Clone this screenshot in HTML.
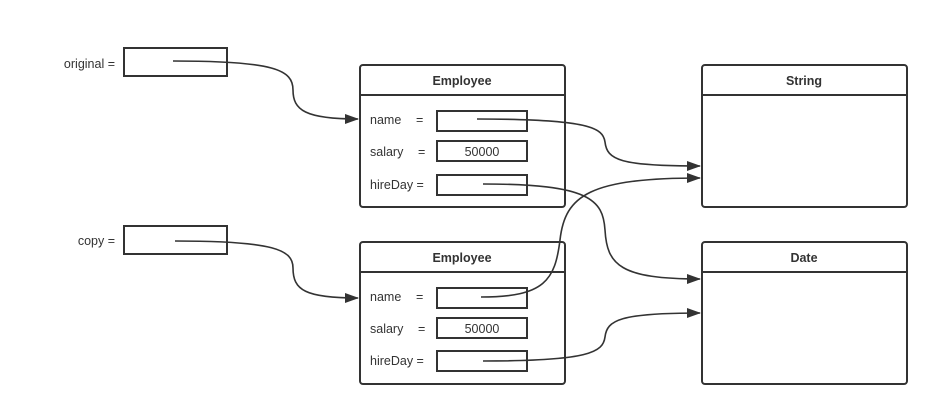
<!DOCTYPE html>
<html><head><meta charset="utf-8"><style>
html,body{margin:0;padding:0;background:#fff;}
svg{display:block;}
text{font-family:"Liberation Sans",sans-serif;font-size:12.5px;fill:#333;}
.b{font-weight:bold;}
</style></head><body>
<svg width="939" height="416" viewBox="0 0 939 416" xmlns="http://www.w3.org/2000/svg">
<defs><marker id="a" markerWidth="14" markerHeight="10" refX="13" refY="5" orient="auto" markerUnits="userSpaceOnUse"><path d="M0,0 L14,5 L0,10 Z" fill="#333"/></marker></defs>
<g fill="none" stroke="#333" stroke-width="2">
<rect x="124" y="48" width="103" height="28"/>
<rect x="124" y="226" width="103" height="28"/>
<rect x="360" y="65" width="205" height="142" rx="3"/><line x1="360" y1="95" x2="565" y2="95"/>
<rect x="360" y="242" width="205" height="142" rx="3"/><line x1="360" y1="272" x2="565" y2="272"/>
<rect x="702" y="65" width="205" height="142" rx="3"/><line x1="702" y1="95" x2="907" y2="95"/>
<rect x="702" y="242" width="205" height="142" rx="3"/><line x1="702" y1="272" x2="907" y2="272"/>
<rect x="437" y="111" width="90" height="20"/><rect x="437" y="141" width="90" height="20"/><rect x="437" y="175" width="90" height="20"/>
<rect x="437" y="288" width="90" height="20"/><rect x="437" y="318" width="90" height="20"/><rect x="437" y="351" width="90" height="20"/>
</g>
<g fill="none" stroke="#333" stroke-width="1.6" marker-end="url(#a)">
<path d="M173 61 C275 61 293 70 293 90 C293 110 305 119 358 119"/>
<path d="M175 241 C275 241 293 250 293 268 C293 290 305 298 358 298"/>
<path d="M477 119 C590 119 603 128 605 142 C607 160 620 166 700 166"/>
<path d="M483 184 C590 184 603 200 605 230 C607 265 620 279 700 279"/>
<path d="M481 297 C545 297 555 280 560 240 C565 195 590 178 700 178"/>
<path d="M483 361 C590 361 603 352 605 337 C607 320 620 313 700 313"/>
</g>
<text x="115" y="68" text-anchor="end">original =</text>
<text x="115" y="245" text-anchor="end">copy =</text>
<text x="462" y="85" text-anchor="middle" class="b">Employee</text>
<text x="462" y="262" text-anchor="middle" class="b">Employee</text>
<text x="804" y="85" text-anchor="middle" class="b">String</text>
<text x="804" y="262" text-anchor="middle" class="b">Date</text>
<text x="370" y="124">name</text><text x="416" y="124">=</text>
<text x="370" y="156">salary</text><text x="418" y="156">=</text>
<text x="370" y="189">hireDay =</text>
<text x="482" y="156" text-anchor="middle">50000</text>
<text x="370" y="301">name</text><text x="416" y="301">=</text>
<text x="370" y="333">salary</text><text x="418" y="333">=</text>
<text x="370" y="365">hireDay =</text>
<text x="482" y="333" text-anchor="middle">50000</text>
</svg>
</body></html>
